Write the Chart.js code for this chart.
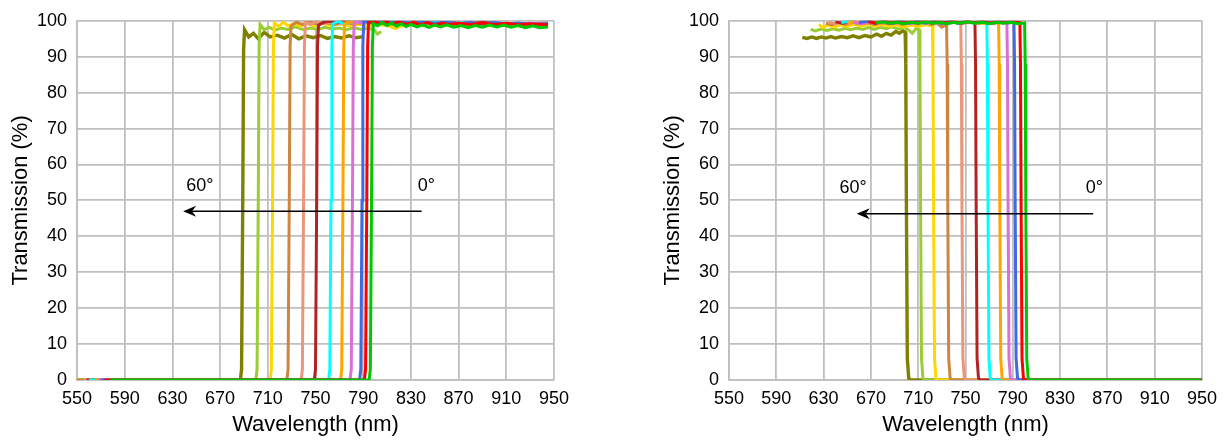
<!DOCTYPE html>
<html>
<head>
<meta charset="utf-8">
<script src="https://cdn.jsdelivr.net/npm/chart.js@4.4.1/dist/chart.umd.min.js"></script>
<style>
  html, body { margin: 0; padding: 0; background: #fff; }
  #left { position: absolute; left: 0; top: 0; width: 612px; height: 443px; }
  #right { position: absolute; left: 652px; top: 0; width: 573px; height: 443px; }
</style>
</head>
<body>
<div id="left"><canvas id="longpass"></canvas></div>
<div id="right"><canvas id="shortpass"></canvas></div>
<script>
// angles, from 0° (drawn on top) up to 60°
const angleLabels = ["0°", "10°", "15°", "20°", "25°", "30°", "35°", "40°", "45°", "50°", "55°", "60°"]
const curveColors = ["#00c800", "#ff0000", "#4169e1", "#da70d6", "#ffa500", "#00ffff",
                     "#b22222", "#e9967a", "#cd853f", "#ffd700", "#9acd32", "#808000"]
const xTicks = [550, 590, 630, 670, 710, 750, 790, 830, 870, 910, 950]
const yTicks = [0, 10, 20, 30, 40, 50, 60, 70, 80, 90, 100]

// longpass filter, [wavelength nm, transmission %]
const lp0 = [[578,0],[795,0],[796,3],[797,50],[797.7,93],[798.5,99.2],[802,98.6],[806,99.5],[810,98.7],[814,99.4],[818,98.5],[822,99.2],[826,98.4],[830,99],[835,98.3],[840,98.9],[845,98.2],[850,98.8],[855,98.3],[860,98.9],[866,98.2],[872,98.7],[878,98.1],[884,98.7],[890,98.2],[896,98.8],[902,98.3],[908,98.8],[914,98.2],[920,98.7],[926,98.1],[932,98.6],[938,98.1],[945,98.3]]
const lp10 = [[573,0],[791,0],[792,3],[793,50],[793.7,93],[794.5,99.6],[799,99.9],[804,99.2],[809,99.8],[814,99.1],[820,99.7],[826,99],[832,99.6],[838,98.9],[844,99.5],[850,98.8],[856,99.4],[862,99],[870,99.3],[880,99],[890,99.4],[900,99],[910,99.3],[920,98.9],[930,99.2],[945,98.9]]
const lp15 = [[570,0],[787,0],[788,3],[789,50],[789.7,93],[790.5,99.8],[796,99.5],[802,99.9],[810,99.4],[820,99.8],[830,99.3],[840,99.7],[850,99.3],[860,99.6],[870,99.2],[880,99.5],[890,99.1],[900,99.5],[910,99.1],[920,99.4],[930,99],[945,99.2]]
const lp20 = [[568,0],[779,0],[780,3],[781,50],[781.7,93],[782.5,99.7],[788,99.4],[794,99.9],[800,99.3],[808,99.8],[816,99.3],[824,99.7],[832,99.2],[840,99.6],[850,99.1],[860,99.6],[870,99.2],[880,99.5],[890,99.1],[900,99.4],[915,99],[930,99.3],[945,99]]
const lp25 = [[565,0],[771,0],[772,3],[773,50],[773.7,93],[774.5,99.3],[780,99.7],[786,99.1],[792,99.6],[800,99],[808,99.5],[816,99],[824,99.4],[832,99.1],[842,99.6],[852,99.1],[862,99.5],[872,99],[882,99.4],[892,99],[905,99.3],[920,98.9],[945,99.1]]
const lp30 = [[560,0],[761,0],[762,3],[763,50],[763.7,93],[764.5,99.2],[769,99.8],[774,99.2],[780,99.7],[788,99.3],[796,99.8],[804,99.2],[812,99.7],[820,99.3],[830,99.6],[840,99.2],[852,99.7],[864,99.2],[876,99.5],[890,99.1],[905,99.4],[920,99],[945,99.2]]
const lp35 = [[558,0],[749,0],[750,3],[751,50],[751.7,93],[752.5,98.8],[757,99.6],[762,99.9],[768,99.5],[774,100],[782,99.6],[790,99.9],[800,99.5],[810,99.8],[820,99.4],[832,99.7],[845,99.3],[860,99.6],[875,99.2],[890,99.5],[910,99.1],[945,99.3]]
const lp40 = [[556,0],[738,0],[739,3],[740,50],[740.7,93],[741.5,99.5],[746,99],[751,99.8],[757,99.2],[764,99.7],[772,99.2],[780,99.8],[790,99.3],[800,99.7],[812,99.2],[826,99.6],[840,99.1],[856,99.5],[872,99.1],[890,99.4],[910,99],[945,99.2]]
const lp45 = [[550,0],[726,0],[727,3],[728,50],[728.7,93],[729.5,98.6],[734,99.6],[739,99],[745,99.7],[751,99.1],[758,99.6],[766,99],[774,99.5],[783,99.1],[792,99.6],[802,99.1],[814,99.5],[828,99],[842,99.4],[858,99],[875,99.3],[895,98.9],[915,99.2],[945,99]]
const lp50 = [[550,0],[712,0],[713,3],[714,50],[714.7,93],[715.5,99.4],[719,98.4],[723,99.6],[727,98.6],[732,99.3],[737,98.5],[743,99.2],[749,98.6],[756,99.3],[763,98.7],[770,99.2],[778,98.6],[786,99.1],[794,98.5],[802,99],[810,98.7],[817,97.8],[822,98.6],[830,99],[840,98.7],[855,99.1],[870,98.7],[890,99],[910,98.7],[930,99],[945,98.8]]
const lp55 = [[550,0],[700,0],[701,3],[702,50],[702.7,93],[703.5,99],[707,97.5],[711,98.2],[716,97.4],[721,98],[727,97.6],[733,98.3],[740,97.5],[746,98],[752,97.6],[758,98.2],[764,97.7],[770,98],[776,97.5],[782,98.1],[788,97.6],[794,98],[799,97.5],[802,96.3],[805,97]]
const lp60 = [[550,0],[687,0],[688,3],[689,50],[689.7,92],[690.5,97.5],[694,95.5],[698,96.5],[702,95],[707,96.8],[712,95.5],[718,96],[724,95.2],[730,96.2],[736,95],[742,95.8],[748,95.3],[754,95.9],[760,95.1],[766,95.6],[772,95.2],[778,95.8],[784,95.3],[790,95.6]]

// shortpass filter
const sp0 = [[674,99.4],[680,99.7],[686,99.3],[692,99.6],[698,99.2],[704,99.6],[710,99.3],[716,99.7],[722,99.3],[728,99.6],[734,99.2],[740,99.6],[746,99.3],[752,99.7],[758,99.3],[764,99.6],[770,99.2],[776,99.6],[782,99.3],[788,99.6],[794,99.2],[800,99.4],[800.5,88],[801,50],[801.8,6],[803,0.5],[804.5,0],[949,0]]
const sp10 = [[668,99.8],[674,99.3],[680,100],[686,99.4],[692,99.9],[698,99.3],[704,99.8],[710,99.4],[716,99.9],[722,99.3],[728,99.8],[734,99.4],[740,99.9],[746,99.3],[752,99.8],[758,99.4],[764,99.9],[770,99.3],[776,99.8],[782,99.4],[788,99.8],[796,99.5],[796.5,88],[797,50],[797.8,6],[799,0.5],[800.5,0],[950,0]]
const sp15 = [[660,99.5],[667,99.9],[674,99.4],[681,99.8],[688,99.3],[695,99.8],[702,99.4],[709,99.9],[716,99.4],[723,99.8],[730,99.3],[737,99.8],[744,99.4],[751,99.9],[758,99.4],[765,99.8],[772,99.3],[779,99.8],[786,99.4],[791,99.6],[791.5,88],[792,50],[792.8,6],[794,0.5],[795.5,0],[950,0]]
const sp20 = [[655,99.6],[662,99.2],[669,99.7],[676,99.3],[683,99.8],[690,99.3],[697,99.7],[704,99.2],[711,99.7],[718,99.3],[725,99.8],[732,99.3],[739,99.7],[746,99.2],[753,99.7],[760,99.3],[767,99.8],[774,99.3],[780,99.7],[785,99.4],[785.5,88],[786,50],[786.8,6],[788,0.5],[789.5,0],[950,0]]
const sp25 = [[650,99.4],[657,99.8],[664,99.3],[671,99.7],[678,99.2],[685,99.7],[692,99.3],[699,99.8],[706,99.3],[713,99.7],[720,99.2],[727,99.7],[734,99.3],[741,99.8],[748,99.3],[755,99.7],[762,99.2],[769,99.6],[774,99.2],[778,99.5],[778.5,88],[779,50],[779.8,6],[781,0.5],[782.5,0],[950,0]]
const sp30 = [[645,99.5],[652,99.9],[659,99.4],[666,99.8],[673,99.3],[680,99.8],[687,99.4],[694,99.9],[701,99.4],[708,99.8],[715,99.3],[722,99.8],[729,99.4],[736,99.9],[743,99.4],[750,99.8],[757,99.3],[763,99.7],[768,99.4],[768.5,88],[769,50],[769.8,6],[771,0.5],[772.5,0],[950,0]]
const sp35 = [[640,99.7],[646,99.3],[653,99.8],[660,99.4],[667,99.9],[674,99.4],[681,99.8],[688,99.3],[695,99.8],[702,99.4],[709,99.9],[716,99.4],[723,99.8],[730,99.3],[737,99.7],[744,99.3],[751,99.7],[758,99.4],[758.5,88],[759,50],[759.8,6],[761,0.5],[762.5,0],[950,0]]
const sp40 = [[634,99.6],[640,99.2],[646,99.7],[652,99.3],[658,99.8],[665,99.3],[672,99.7],[679,99.2],[686,99.7],[693,99.3],[700,99.8],[707,99.3],[714,99.7],[721,99.2],[728,99.6],[735,99.2],[741,99.6],[746,99.3],[746.5,88],[747,50],[747.8,6],[749,0.5],[750.5,0],[950,0]]
const sp45 = [[632,99.3],[637,98.9],[643,99.5],[649,99],[655,99.6],[661,99.1],[667,99.5],[673,99],[679,99.6],[685,99.1],[691,99.5],[697,99],[703,99.6],[709,99.1],[715,99.5],[721,99],[726,99.3],[730,98.2],[734,99],[734.5,88],[735,50],[735.8,6],[737,0.5],[738.5,0],[950,0]]
const sp50 = [[626,99],[629,98.2],[634,98.8],[639,98.3],[644,98.9],[650,98.4],[656,99],[662,98.5],[668,99.1],[674,98.5],[680,99],[686,98.4],[692,98.9],[698,98.3],[704,98.8],[710,98.4],[716,98.9],[722,98.6],[722.5,88],[723,50],[723.8,6],[725,0.5],[726.5,0],[950,0]]
const sp55 = [[619,97.6],[623,97.2],[628,97.7],[633,97.3],[638,97.8],[643,97.4],[648,97.9],[653,97.5],[658,98],[663,97.6],[668,98.1],[673,97.6],[678,98.2],[683,97.8],[688,98.3],[693,97.7],[698,98.2],[702,97.4],[705,96.5],[708,97.8],[711,97.5],[711.5,88],[712,50],[712.8,6],[714,0.5],[715.5,0],[950,0]]
const sp60 = [[612,95.4],[616,95.1],[620,95.5],[624,95.1],[628,95.5],[632,95.2],[636,95.6],[640,95.2],[645,95.6],[650,95.3],[655,95.8],[660,95.3],[665,95.9],[670,95.5],[675,96.3],[679,95.7],[683,96.5],[687,96],[691,97],[694,96.5],[697,97.2],[699,96.8],[699.5,88],[700,50],[700.8,6],[702,0.5],[703.5,0],[950,0]]

const longpassCurves = [lp0, lp10, lp15, lp20, lp25, lp30, lp35, lp40, lp45, lp50, lp55, lp60]
const shortpassCurves = [sp0, sp10, sp15, sp20, sp25, sp30, sp35, sp40, sp45, sp50, sp55, sp60]

// arrow 0° -> 60°, in data units
const longpassArrow = {from: 839, to: 639, level: 47, startText: "0°", startAt: 843, endText: "60°", endAt: 653, textLevel: 54}
const shortpassArrow = {from: 858, to: 658, level: 46.3, startText: "0°", startAt: 859, endText: "60°", endAt: 655, textLevel: 53.5}

const fontFamily = '"Liberation Sans", Arial, sans-serif'
const gridColor = "#bfbfbf"
Chart.defaults.font.family = fontFamily

const arrowPlugin = {
    id: "angleArrow",
    afterDatasetsDraw(chart, args, opts)
    {
        const {ctx, scales: {x, y}} = chart
        const x0 = x.getPixelForValue(opts.from)
        const x1 = x.getPixelForValue(opts.to)
        const yy = y.getPixelForValue(opts.level)
        ctx.save()
        ctx.strokeStyle = "#000"
        ctx.lineWidth = 1.5
        ctx.beginPath()
        ctx.moveTo(x0, yy)
        ctx.lineTo(x1 + 8, yy)
        ctx.stroke()
        ctx.fillStyle = "#000"
        ctx.beginPath()
        ctx.moveTo(x1, yy)
        ctx.lineTo(x1 + 13, yy - 5.5)
        ctx.lineTo(x1 + 9, yy)
        ctx.lineTo(x1 + 13, yy + 5.5)
        ctx.closePath()
        ctx.fill()
        ctx.font = "18px " + fontFamily
        ctx.textAlign = "center"
        ctx.textBaseline = "middle"
        const ty = y.getPixelForValue(opts.textLevel)
        ctx.fillText(opts.startText, x.getPixelForValue(opts.startAt), ty)
        ctx.fillText(opts.endText, x.getPixelForValue(opts.endAt), ty)
        ctx.restore()
    }
}

function makeConfig(curves, arrow, padRight)
{
    return {
        type: "line",
        data: {
            datasets: curves.map((c, i) => ({
                label: angleLabels[i],
                data: c,
                borderColor: curveColors[i],
                backgroundColor: curveColors[i],
                borderWidth: i === curves.length - 1 ? 3.4 : 3,
                pointRadius: 0,
                tension: 0,
                fill: false,
            })),
        },
        options: {
            animation: false,
            responsive: true,
            maintainAspectRatio: false,
            layout: {padding: {top: 17, right: padRight, bottom: 0, left: 0}},
            scales: {
                x: {
                    type: "linear",
                    min: 550,
                    max: 950,
                    afterBuildTicks: axis => { axis.ticks = xTicks.map(v => ({value: v})) },
                    afterFit: axis => { axis.height = 63 },
                    grid: {color: gridColor, lineWidth: 1.8, drawTicks: false},
                    border: {color: gridColor, width: 1.8},
                    ticks: {padding: 8, color: "#000", font: {size: 18}, maxRotation: 0, autoSkip: false},
                    title: {display: true, text: "Wavelength (nm)", color: "#000", font: {size: 22}, padding: {top: 0, bottom: 5}},
                },
                y: {
                    min: 0,
                    max: 100,
                    afterBuildTicks: axis => { axis.ticks = yTicks.map(v => ({value: v})) },
                    afterFit: axis => { axis.width = 77 },
                    grid: {color: gridColor, lineWidth: 1.8, drawTicks: false},
                    border: {color: gridColor, width: 1.8},
                    ticks: {padding: 10, color: "#000", font: {size: 18}},
                    title: {display: true, text: "Transmission (%)", color: "#000", font: {size: 22}, padding: {top: 8, bottom: 0}},
                },
            },
            plugins: {
                legend: {display: false},
                tooltip: {enabled: false},
                angleArrow: arrow,
            },
        },
        plugins: [arrowPlugin],
    }
}

new Chart(document.getElementById("longpass"), makeConfig(longpassCurves, longpassArrow, 58))
new Chart(document.getElementById("shortpass"), makeConfig(shortpassCurves, shortpassArrow, 18))
</script>
</body>
</html>
